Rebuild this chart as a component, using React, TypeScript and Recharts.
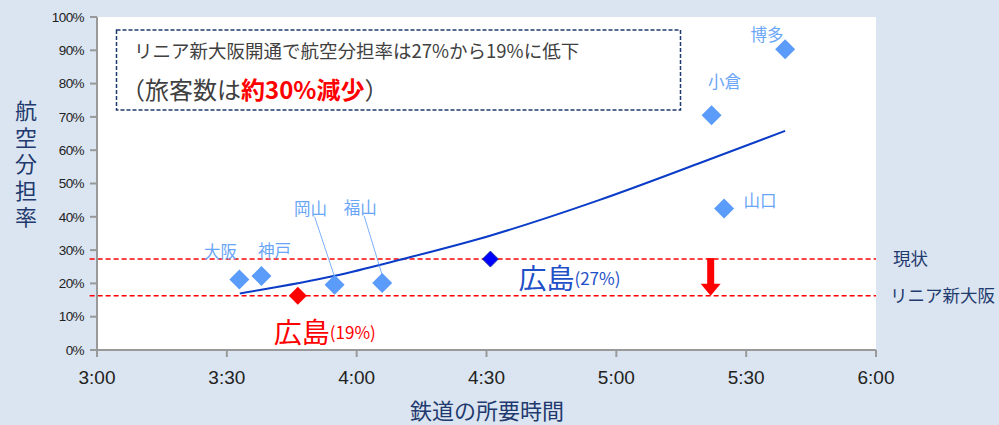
import {
  CartesianGrid, ComposedChart, Customized, Line, ReferenceLine, Scatter, XAxis, YAxis,
} from "recharts";

/* 鉄道の所要時間（分）と航空分担率（%）— 山陽・九州方面 */

const X_TICKS = [180, 210, 240, 270, 300, 330, 360];
const Y_TICKS = [0, 10, 20, 30, 40, 50, 60, 70, 80, 90, 100];

const CITIES = [
  { name: "大阪", t: 212.9, share: 21.2 },
  { name: "神戸", t: 218.0, share: 22.2 },
  { name: "岡山", t: 234.9, share: 19.6 },
  { name: "福山", t: 245.9, share: 20.1 },
  { name: "小倉", t: 322.0, share: 70.5 },
  { name: "山口", t: 324.9, share: 42.5 },
  { name: "博多", t: 339.0, share: 90.3 },
];

const HIROSHIMA_NOW = [{ name: "広島", t: 270.9, share: 27.3, pct: "(27%)" }];
const HIROSHIMA_LINEAR = [{ name: "広島", t: 226.4, share: 16.3, pct: "(19%)" }];

// trend curve
const TREND = [
  { t: 213, share: 17.0 },
  { t: 235, share: 22.3 },
  { t: 250, share: 27.1 },
  { t: 271, share: 34.4 },
  { t: 296, share: 45.0 },
  { t: 319, share: 56.0 },
  { t: 339, share: 65.8 },
];

const SHARE_NOW = 27.3;
const SHARE_LINEAR = 16.3;
const ARROW_T = 321.8;

const NAVY = "#1F3A6E";
const CITY_BLUE = "#5B9BFA";
const CITY_TEXT = "#6AA6F8";
const RED = "#FF0000";
const JP = "'Noto Sans CJK JP', 'Noto Sans', sans-serif";
const LATIN = "'Liberation Sans', Arial, sans-serif";

// label placement relative to each diamond (dx, dy to label centre; leader = draw line)
const CITY_LABEL: Record<string, { dx: number; dy: number; leader?: boolean }> = {
  大阪: { dx: -19, dy: -28 },
  神戸: { dx: 13, dy: -26 },
  岡山: { dx: -24, dy: -77, leader: true },
  福山: { dx: -22, dy: -76, leader: true },
  小倉: { dx: 13, dy: -34 },
  山口: { dx: 36, dy: -8 },
  博多: { dx: -18, dy: -15 },
};

const fmtTime = (m: number) => `${Math.floor(m / 60)}:${String(m % 60).padStart(2, "0")}`;

function diamond(cx: number, cy: number, r: number) {
  return `${cx},${cy - r} ${cx + r},${cy} ${cx},${cy + r} ${cx - r},${cy}`;
}

function CityShape(p: any) {
  const { cx, cy, payload } = p;
  const l = CITY_LABEL[payload.name] ?? { dx: 0, dy: -20 };
  return (
    <g>
      {l.leader && (
        <line x1={cx + l.dx + 4} y1={cy + l.dy + 9} x2={cx} y2={cy - 8}
          stroke={CITY_BLUE} strokeWidth={0.8} />
      )}
      <polygon points={diamond(cx, cy, 10)} fill={CITY_BLUE} />
      <text x={cx + l.dx} y={cy + l.dy} textAnchor="middle" dominantBaseline="central"
        fontFamily={JP} fontSize={16.5} fill={CITY_TEXT}>{payload.name}</text>
    </g>
  );
}

function HiroshimaNowShape(p: any) {
  const { cx, cy, payload } = p;
  return (
    <g>
      <polygon points={diamond(cx, cy, 8)} fill="#0000FF" stroke="#1A2F8A" strokeWidth={0.8} />
      <text x={cx + 28} y={cy + 18} dominantBaseline="central" fill="#1F50C8" fontFamily={JP}>
        <tspan fontSize={28}>{payload.name}</tspan>
        <tspan fontSize={17}>{payload.pct}</tspan>
      </text>
    </g>
  );
}

function HiroshimaLinearShape(p: any) {
  const { cx, cy, payload } = p;
  return (
    <g>
      <polygon points={diamond(cx, cy, 9)} fill={RED} />
      <text x={cx - 24} y={cy + 35} dominantBaseline="central" fill={RED} fontFamily={JP}>
        <tspan fontSize={28}>{payload.name}</tspan>
        <tspan fontSize={17}>{payload.pct}</tspan>
      </text>
    </g>
  );
}

function DownArrow(p: any) {
  const { x1, y1, y2 } = p;
  const head = 12;
  return (
    <g>
      <rect x={x1 - 3.5} y={y1 - 1} width={7} height={y2 - y1 - head + 2} fill={RED} />
      <polygon points={`${x1 - 10},${y2 - head} ${x1 + 10},${y2 - head} ${x1},${y2}`} fill={RED} />
    </g>
  );
}

function Decorations() {
  return (
    <g>
      <rect x={116.5} y={30} width={564} height={80} fill="#fff" stroke={NAVY}
        strokeWidth={1.5} strokeDasharray="4 2" />
      <text x={134} y={50} dominantBaseline="central" fontFamily={JP} fontSize={18.5} fill="#404040">
        リニア新大阪開通で航空分担率は27%から19%に低下
      </text>
      <text x={121} y={88} dominantBaseline="central" fontFamily={JP} fontSize={24} fill="#404040">
        （旅客数は
        <tspan fill={RED} fontWeight="bold">約30%減少</tspan>
        ）
      </text>
      <text x={26} y={100} fontFamily={JP} fontSize={22} fill={NAVY}
        style={{ writingMode: "vertical-rl", letterSpacing: 4.5 }}>航空分担率</text>
      <text x={487} y={409} textAnchor="middle" dominantBaseline="central"
        fontFamily={JP} fontSize={22} fill={NAVY}>鉄道の所要時間</text>
    </g>
  );
}

export default function App() {
  return (
    <div style={{ position: "absolute", left: 0, top: 0, width: 999, height: 425, background: "#DBE5F1" }}>
      <ComposedChart width={999} height={425} margin={{ top: 17, right: 123, bottom: 0, left: 0 }}>
        <CartesianGrid horizontal={false} vertical={false} fill="#fff" />
        <XAxis type="number" dataKey="t" domain={[180, 360]} ticks={X_TICKS} tickFormatter={fmtTime}
          height={75} tickSize={7} tickMargin={14}
          axisLine={{ stroke: "#999", strokeWidth: 2 }} tickLine={{ stroke: "#999", strokeWidth: 2 }}
          tick={{ fontSize: 19, fill: "#222", fontFamily: LATIN }} />
        <YAxis type="number" dataKey="share" domain={[0, 100]} ticks={Y_TICKS} tickFormatter={(v: number) => `${v}%`}
          width={97} tickSize={7} tickMargin={6}
          axisLine={{ stroke: "#999", strokeWidth: 2 }} tickLine={{ stroke: "#999", strokeWidth: 2 }}
          tick={{ fontSize: 13.5, fill: "#222", fontFamily: LATIN, letterSpacing: -0.6 }} />
        <Customized component={<Decorations />} />
        <ReferenceLine segment={[{ x: 178.3, y: SHARE_NOW }, { x: 360, y: SHARE_NOW }]} ifOverflow="visible"
          stroke={RED} strokeWidth={1.5} strokeDasharray="5 3"
          label={{ value: "現状", position: "right", offset: 17, fill: NAVY, fontSize: 17.5, fontFamily: JP }} />
        <ReferenceLine segment={[{ x: 178.3, y: SHARE_LINEAR }, { x: 360, y: SHARE_LINEAR }]} ifOverflow="visible"
          stroke={RED} strokeWidth={1.5} strokeDasharray="5 3"
          label={{ value: "リニア新大阪", position: "right", offset: 14, fill: NAVY, fontSize: 17.5, fontFamily: JP }} />
        <Line data={TREND} dataKey="share" type="monotone" stroke="#0A3CC8" strokeWidth={2}
          dot={false} activeDot={false} isAnimationActive={false} />
        <Scatter data={CITIES} dataKey="share" shape={CityShape} isAnimationActive={false} />
        <Scatter data={HIROSHIMA_LINEAR} dataKey="share" shape={HiroshimaLinearShape} isAnimationActive={false} />
        <Scatter data={HIROSHIMA_NOW} dataKey="share" shape={HiroshimaNowShape} isAnimationActive={false} />
        <ReferenceLine segment={[{ x: ARROW_T, y: SHARE_NOW }, { x: ARROW_T, y: SHARE_LINEAR }]}
          shape={DownArrow} />
      </ComposedChart>
    </div>
  );
}
